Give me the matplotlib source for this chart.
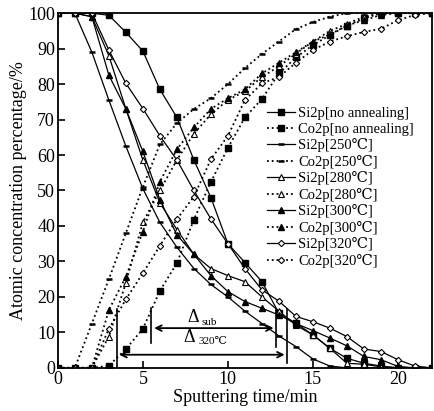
import numpy as np
import matplotlib
matplotlib.use('Agg')
from matplotlib import pyplot as plt

plt.rcParams['font.family'] = ['Liberation Serif', 'DejaVu Serif', 'DejaVu Sans']

# sputtering time (min)
t = np.arange(0, 23)

si_na = [100, 100, 100, 99.4, 94.6, 89.3, 78.5, 70.6, 58.6, 48, 35, 29.7, 24.3, 15.4, 12.6, 9.3, 5.5, 2.7, 1.3, 0.5, 0, 0, 0]
co_na = [0, 0, 0, 0.6, 5.3, 11, 21.7, 29.5, 41.8, 52.4, 62, 70.6, 75.8, 83, 87.5, 91, 93.8, 96.5, 98.5, 100, 100, 100, 100]
si_250 = [100, 100, 89, 75.5, 62.5, 50.5, 41, 34, 28, 23.5, 20, 16, 12.5, 9, 6, 2.5, 0.5, 0, 0, 0, 0, 0, 0]
co_250 = [0, 0, 12.5, 25, 38, 51, 63, 69, 73, 76, 80, 84.5, 88.5, 92, 95.5, 97.5, 99, 100, 100, 100, 100, 100, 100]
si_280 = [100, 100, 99, 88, 73, 58.6, 46.5, 39, 32, 28, 26, 24.3, 20, 16, 12, 9.3, 5.5, 1.3, 1, 0.3, 0, 0, 0]
co_280 = [0, 0, 0, 8.8, 24, 41, 50, 58.6, 66, 71.5, 75.5, 78, 82, 85, 88.6, 92, 95, 97, 99, 100, 100, 100, 100]
si_300 = [100, 100, 99, 82.5, 73, 61, 47.4, 37.5, 32, 26, 21.5, 18.7, 16.8, 14.9, 12.5, 10.5, 8.4, 6.2, 3.2, 2.3, 0.4, 0, 0]
co_300 = [0, 0, 0, 16.3, 25.7, 38.4, 52.5, 61.6, 67.8, 73, 76, 78.5, 83, 86, 89, 92, 94, 96.5, 98, 99.5, 100, 100, 100]
si_320 = [100, 100, 100, 89.6, 80.2, 73.1, 65.4, 58.6, 50, 42, 35, 28, 22, 18.8, 14.5, 13, 11.2, 8.8, 5.3, 4.6, 2.3, 0.5, 0]
co_320 = [0, 0, 0, 11, 19.3, 26.7, 34.4, 41.9, 48.3, 58.8, 65.4, 75.5, 80.2, 82, 86, 89.6, 92, 93.5, 94.7, 95.6, 98, 99.5, 100]

labels = ['Si2p[no annealing]', 'Co2p[no annealing]', 'Si2p[250℃]', 'Co2p[250℃]',
          'Si2p[280℃]', 'Co2p[280℃]', 'Si2p[300℃]', 'Co2p[300℃]',
          'Si2p[320℃]', 'Co2p[320℃]']

fig = plt.figure(figsize=(4.35, 4.11), dpi=100)
ax = fig.add_axes([0.133, 0.105, 0.860, 0.863])

k = 'black'
ax.plot(t, si_na, '-', color=k, lw=0.9, marker='s', ms=4.5, label=labels[0])
ax.plot(t, co_na, ':', color=k, lw=1.3, marker='s', ms=4.5, label=labels[1])
ax.plot(t, si_250, '-', color=k, lw=0.9, marker='_', ms=4, mew=1.8, label=labels[2])
ax.plot(t, co_250, ':', color=k, lw=1.3, marker='_', ms=4, mew=1.8, label=labels[3])
ax.plot(t, si_280, '-', color=k, lw=0.9, marker='^', ms=4.5, mfc='white', mew=0.8, label=labels[4])
ax.plot(t, co_280, ':', color=k, lw=1.3, marker='^', ms=4.5, mfc='white', mew=0.8, label=labels[5])
ax.plot(t, si_300, '-', color=k, lw=0.9, marker='^', ms=4.5, label=labels[6])
ax.plot(t, co_300, ':', color=k, lw=1.3, marker='^', ms=4.5, label=labels[7])
ax.plot(t, si_320, '-', color=k, lw=0.9, marker='D', ms=3.2, mfc='white', mew=0.8, label=labels[8])
ax.plot(t, co_320, ':', color=k, lw=1.3, marker='D', ms=3.2, mfc='white', mew=0.8, label=labels[9])

# interval markers
ax.plot([3.45, 3.45], [0, 16.5], color=k, lw=1.2)
ax.plot([5.5, 5.5], [7, 17], color=k, lw=1.2)
ax.plot([12.85, 12.85], [6, 16.5], color=k, lw=1.2)
ax.plot([13.5, 13.5], [1.3, 16.5], color=k, lw=1.2)
ax.annotate('', xy=(5.5, 11.2), xytext=(12.85, 11.2),
            arrowprops=dict(arrowstyle='<->', color=k, lw=1.3))
ax.annotate('', xy=(3.45, 3.7), xytext=(13.5, 3.7),
            arrowprops=dict(arrowstyle='<->', color=k, lw=1.3))
ax.text(7.6, 14.2, 'Δ', fontsize=13, va='center')
ax.text(8.45, 12.9, 'sub', fontsize=8, va='center')
ax.text(7.4, 8.6, 'Δ', fontsize=13, va='center')
ax.text(8.25, 7.3, '320℃', fontsize=8, va='center')

ax.set_xlim(0, 22)
ax.set_ylim(0, 100)
ax.set_xticks([0, 5, 10, 15, 20])
ax.set_yticks(np.arange(0, 101, 10))
ax.tick_params(direction='in', length=5, width=1.2, labelsize=13, pad=2)
for s in ax.spines.values():
    s.set_linewidth(1.3)

ax.set_xlabel('Sputtering time/min', fontsize=13, labelpad=1)
ax.set_ylabel('Atomic concentration percentage/%', fontsize=13, labelpad=1)

leg = ax.legend(loc='upper left', bbox_to_anchor=(0.537, 0.76), frameon=False,
                fontsize=10.5, handlelength=1.9, handletextpad=0.2,
                labelspacing=0.17, borderpad=0.1)

fig.savefig('out.png', dpi=100)
